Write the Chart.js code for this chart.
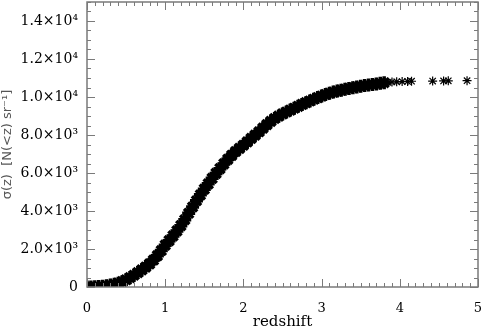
<!DOCTYPE html>
<html>
<head>
<meta charset="utf-8">
<script src="https://cdn.jsdelivr.net/npm/chart.js@4/dist/chart.umd.min.js"></script>
<style>
  html, body { margin: 0; padding: 0; background: #fff; }
  #wrap { width: 485px; height: 331px; }
</style>
</head>
<body>
<div id="wrap"><canvas id="sigmaChart"></canvas></div>
<script>
// Cumulative counts (dense part of the curve)
const redshift = [
  0.00, 0.05, 0.10, 0.15, 0.20, 0.25, 0.30, 0.35, 0.40, 0.45,
  0.50, 0.55, 0.60, 0.65, 0.70, 0.75, 0.80, 0.85, 0.90, 0.95,
  1.00, 1.05, 1.10, 1.15, 1.20, 1.25, 1.30, 1.35, 1.40, 1.45,
  1.50, 1.55, 1.60, 1.65, 1.70, 1.75, 1.80, 1.85, 1.90, 1.95,
  2.00, 2.05, 2.10, 2.15, 2.20, 2.25, 2.30, 2.35, 2.40, 2.45,
  2.50, 2.55, 2.60, 2.65, 2.70, 2.75, 2.80, 2.85, 2.90, 2.95,
  3.00, 3.05, 3.10, 3.15, 3.20, 3.25, 3.30, 3.35, 3.40, 3.45,
  3.50, 3.55, 3.60, 3.65, 3.70, 3.75, 3.80
];
const sigma = [
  0, 3, 10, 22, 40, 65, 100, 145, 200, 280,
  380, 490, 620, 760, 900, 1050, 1220, 1420, 1650, 1920,
  2200, 2440, 2690, 2950, 3230, 3540, 3880, 4210, 4540, 4850,
  5150, 5430, 5720, 5980, 6230, 6480, 6720, 6930, 7130, 7300,
  7460, 7640, 7820, 7990, 8170, 8360, 8550, 8720, 8870, 8990,
  9110, 9210, 9310, 9410, 9510, 9610, 9700, 9790, 9880, 9970,
  10050, 10130, 10200, 10260, 10310, 10360, 10410, 10450, 10490, 10530,
  10560, 10600, 10630, 10660, 10690, 10720, 10750
];

// Sparse high-redshift points
const redshiftTail = [3.85, 3.90, 3.96, 4.03, 4.10, 4.15, 4.42, 4.56, 4.62, 4.86];
const sigmaTail = [10770, 10790, 10800, 10810, 10820, 10830, 10840, 10845, 10850, 10860];

// Axis ticks
const xTickValues = [0, 1, 2, 3, 4, 5];
const yTickValues = [0, 2000, 4000, 6000, 8000, 10000, 12000, 14000];
const xMinorStep = 0.1;
const yMinorStep = 500;

const supDigits = { '0': '⁰', '1': '¹', '2': '²', '3': '³', '4': '⁴', '5': '⁵' };

function sciLabel(v) {
  if (v === 0) return '0';
  const e = Math.floor(Math.log10(v));
  const m = (v / Math.pow(10, e)).toFixed(1);
  return m + '×10' + String(e).split('').map(d => supDigits[d]).join('');
}

const AXIS_COLOR = '#7a7a7a';

// Frame + inward major/minor ticks on all four sides
const framePlugin = {
  id: 'frame',
  afterDraw(chart) {
    const { ctx, chartArea: a, scales } = chart;
    const xs = scales.x, ys = scales.y;
    ctx.save();
    ctx.strokeStyle = AXIS_COLOR;
    ctx.lineWidth = 1.5;
    ctx.strokeRect(a.left, a.top, a.right - a.left, a.bottom - a.top);
    ctx.lineWidth = 1;
    ctx.beginPath();
    for (let i = 0; i <= Math.round((xs.max - xs.min) / xMinorStep); i++) {
      const v = xs.min + i * xMinorStep;
      const major = Math.abs(v - Math.round(v)) < 1e-6;
      const len = major ? 8 : 4;
      const px = Math.round(xs.getPixelForValue(v)) + 0.5;
      ctx.moveTo(px, a.bottom); ctx.lineTo(px, a.bottom - len);
      ctx.moveTo(px, a.top); ctx.lineTo(px, a.top + len);
    }
    for (let i = 0; i <= Math.round((ys.max - ys.min) / yMinorStep); i++) {
      const v = ys.min + i * yMinorStep;
      const major = v % 2000 === 0;
      const len = major ? 8 : 4;
      const py = Math.round(ys.getPixelForValue(v)) + 0.5;
      ctx.moveTo(a.left, py); ctx.lineTo(a.left + len, py);
      ctx.moveTo(a.right, py); ctx.lineTo(a.right - len, py);
    }
    ctx.stroke();
    ctx.restore();
  }
};

const ctx = document.getElementById('sigmaChart').getContext('2d');
new Chart(ctx, {
  type: 'scatter',
  data: {
    datasets: [{
      data: redshift.map((z, i) => ({ x: z, y: sigma[i] })),
      showLine: false,
      pointStyle: 'star',
      pointRadius: 6.5,
      pointHoverRadius: 6.5,
      borderColor: '#000',
      backgroundColor: '#000',
      borderWidth: 3.5
    }, {
      data: redshiftTail.map((z, i) => ({ x: z, y: sigmaTail[i] })),
      showLine: false,
      pointStyle: 'star',
      pointRadius: 4.5,
      pointHoverRadius: 4.5,
      borderColor: '#000',
      backgroundColor: '#000',
      borderWidth: 1.2
    }]
  },
  options: {
    responsive: true,
    maintainAspectRatio: false,
    animation: false,
    events: [],
    layout: { autoPadding: false, padding: { top: 2, right: 7, left: 0, bottom: 0 } },
    plugins: { legend: { display: false }, tooltip: { enabled: false } },
    scales: {
      x: {
        type: 'linear',
        min: 0,
        max: 5,
        afterBuildTicks: s => { s.ticks = xTickValues.map(v => ({ value: v })); },
        afterFit: s => { s.height = 44; s.paddingLeft = 0; s.paddingRight = 0; },
        grid: { display: false, drawTicks: false },
        border: { display: false },
        ticks: {
          padding: 14,
          color: '#000',
          font: { family: 'DejaVu Serif', size: 13 },
          maxRotation: 0
        },
        title: {
          display: true,
          text: 'redshift',
          color: '#000',
          padding: { top: -4, bottom: 0 },
          font: { family: 'DejaVu Serif', size: 15 }
        }
      },
      y: {
        type: 'linear',
        min: 0,
        max: 15000,
        afterBuildTicks: s => { s.ticks = yTickValues.map(v => ({ value: v })); },
        afterFit: s => { s.width = 87; s.paddingTop = 0; s.paddingBottom = 0; },
        grid: { display: false, drawTicks: false },
        border: { display: false },
        ticks: {
          padding: 9,
          color: '#000',
          font: { family: 'DejaVu Serif', size: 14 },
          callback: v => sciLabel(v)
        },
        title: {
          display: true,
          text: 'σ(z)  [N(<z) sr⁻¹]',
          color: '#555',
          padding: { top: 0, bottom: 0 },
          font: { family: 'DejaVu Sans', size: 13 }
        }
      }
    }
  },
  plugins: [framePlugin]
});
</script>
</body>
</html>
